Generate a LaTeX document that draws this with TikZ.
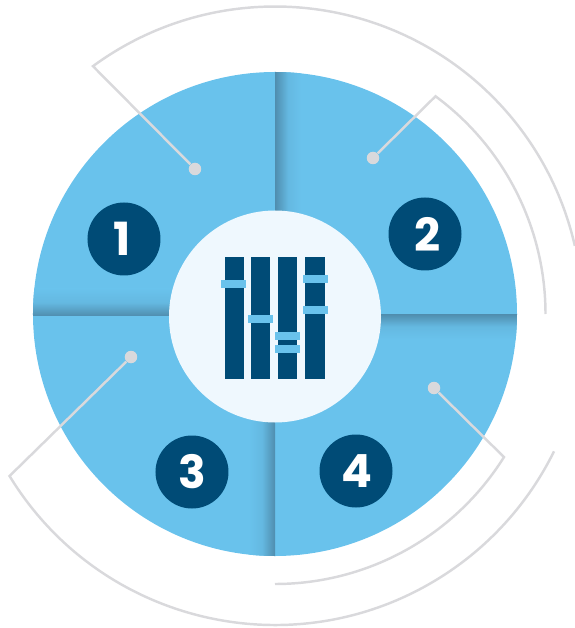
\documentclass[tikz,border=0pt]{standalone}
\usepackage{fontspec}
\newfontfamily\numfont{Poppins}
\definecolor{skyblue}{HTML}{69C2EC}
\definecolor{shadeblue}{HTML}{4F8DAE}
\definecolor{navy}{HTML}{004B76}
\definecolor{paleblue}{HTML}{EFF8FE}
\definecolor{linegray}{HTML}{D9D9DC}
\tikzset{
  numdisc/.style={circle, fill=navy, text=white, minimum size=1.46cm, inner sep=0pt, font=\numfont\bfseries\fontsize{26}{26}\selectfont},
  leaderdot/.style={circle, fill=linegray, minimum size=0.25cm, inner sep=0pt},
  leader/.style={draw=linegray, line width=1.4pt},
  rail/.style={fill=navy},
  slider/.style={fill=skyblue},
  foldmid/.style={middle color=skyblue!82!shadeblue}
}
\begin{document}
\begin{tikzpicture}
        % 1 px of the drawing = 0.02 cm, origin at the centre of the wheel
        \useasboundingbox (-5.5,-6.28) rectangle (6,6.28);
        \fill[skyblue] (0,0) circle (4.84);
        % folds between the quarters
        \begin{scope}
          \clip (0,0) circle (4.84);
          \shade[left color=shadeblue, right color=skyblue, foldmid] (0,0) rectangle (0.52,4.84);
          \shade[left color=skyblue, right color=shadeblue, foldmid] (-0.52,-4.84) rectangle (0,0);
          \shade[top color=skyblue, bottom color=shadeblue, foldmid] (-4.84,-0.04) rectangle (0,0.5);
          \shade[top color=shadeblue, bottom color=skyblue, foldmid] (0,0) rectangle (4.84,-0.5);
        \end{scope}
        \fill[paleblue] (0,-0.05) circle (2.12);
        % rails and sliders
        \foreach \x/\w in {-1/0.38, -0.48/0.38, 0.06/0.38, 0.6/0.4}
          \fill[rail] (\x,1.14) rectangle ++(\w,-2.44);
        \foreach \x/\y in {-1.08/0.68, -0.54/-0.02, 0/-0.36, 0/-0.62, 0.56/0.78, 0.56/0.16}
          \fill[slider] (\x,\y) rectangle ++(0.5,-0.16);
        % leaders
        \node[leaderdot] (dot1) at (-1.6,2.9) {};
        \node[leaderdot] (dot2) at (1.96,3.12) {};
        \node[leaderdot] (dot3) at (-2.88,-0.86) {};
        \node[leaderdot] (dot4) at (3.18,-1.48) {};
        \coordinate (bend1) at (126.3:6.15);
        \coordinate (bend2) at (53.6:5.41);
        \coordinate (bend3) at (-32:5.4);
        \coordinate (bend4) at (211.4:6.22);
        \draw[leader] (dot1) -- (bend1) arc[start angle=126.3, end angle=12.8, radius=6.15];
        \draw[leader] (dot2) -- (bend2) arc[start angle=53.6, end angle=0, radius=5.41];
        \draw[leader] (dot4) -- (bend3) arc[start angle=-32, end angle=-90, radius=5.4];
        \draw[leader] (dot3) -- (bend4) arc[start angle=211.4, end angle=333.8, radius=6.22];
        % numbers
        \node[numdisc] (num1) at (-3.02,1.5) {1\kern0.08cm};
        \node[numdisc] (num2) at (3,1.6) {\kern0.12cm 2};
        \node[numdisc] (num3) at (-1.66,-3.16) {3};
        \node[numdisc] (num4) at (1.62,-3.14) {\kern0.04cm 4};
      \end{tikzpicture}
\end{document}
